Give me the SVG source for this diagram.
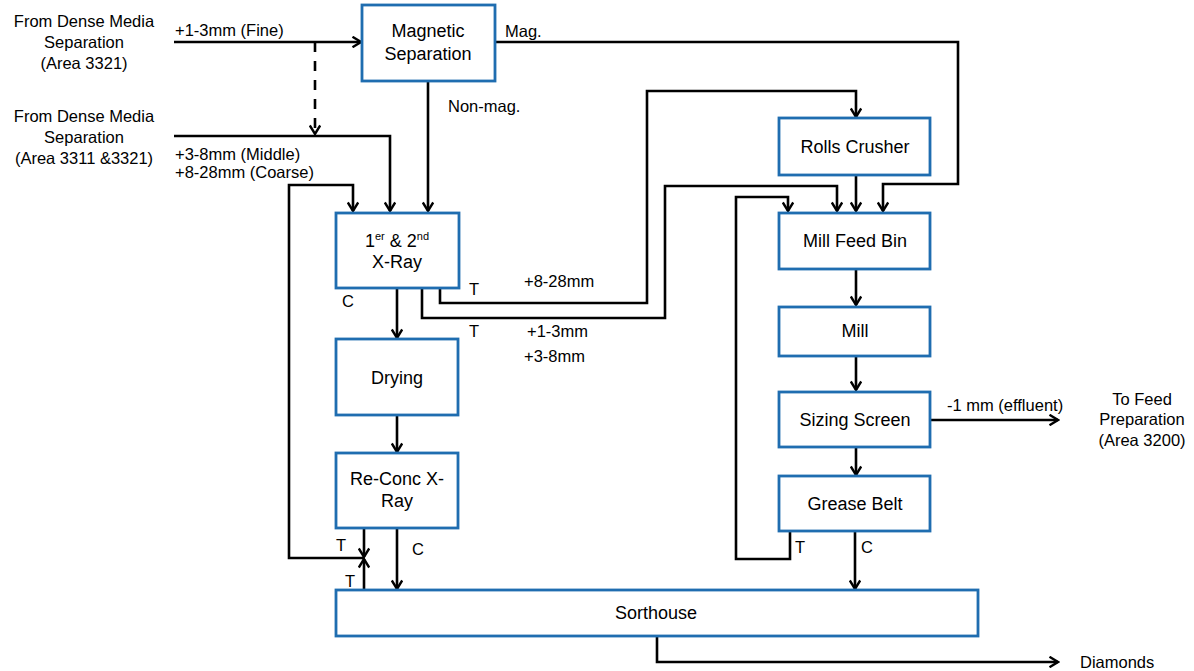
<svg xmlns="http://www.w3.org/2000/svg" width="1194" height="671" viewBox="0 0 1194 671">
<defs>
<style>
.box{fill:#fff;stroke:#1f6db0;stroke-width:2.8}
.nt{font-family:"Liberation Sans",Arial,sans-serif;font-size:18px;fill:#000;text-anchor:middle}
.lb{font-family:"Liberation Sans",Arial,sans-serif;font-size:16.5px;fill:#000}
.src{font-family:"Liberation Sans",Arial,sans-serif;font-size:16.5px;fill:#000;text-anchor:middle}
.ln{fill:none;stroke:#000;stroke-width:2.6}
.arr{marker-end:url(#ah)}
</style>
<marker id="ah" viewBox="0 0 12 12" refX="10.5" refY="6" markerWidth="12" markerHeight="12" markerUnits="userSpaceOnUse" orient="auto">
<path d="M2,0.8 L10.5,6 L2,11.2" fill="none" stroke="#000" stroke-width="2.4"/>
</marker>
</defs>
<rect width="1194" height="671" fill="#fff"/>

<g id="connectors">
<path class="ln arr" d="M174,42 H361"/>
<path class="ln arr" d="M315,42 V134" stroke-dasharray="10,9"/>
<path class="ln arr" d="M174,136 H390 V211"/>
<path class="ln arr" d="M428,81 V211"/>
<path class="ln arr" d="M495,42 H958 V184 H883 V211"/>
<path class="ln arr" d="M440,288 V303 H647 V91 H856 V117"/>
<path class="ln arr" d="M422,288 V318 H665 V186 H837 V211"/>
<path class="ln arr" d="M856,175 V211"/>
<path class="ln arr" d="M790,531 V559 H736 V197 H788 V211"/>
<path class="ln arr" d="M856,269 V305"/>
<path class="ln arr" d="M856,356 V390"/>
<path class="ln arr" d="M856,447 V475"/>
<path class="ln arr" d="M930,420 H1058"/>
<path class="ln arr" d="M855,531 V589"/>
<path class="ln arr" d="M657,636 V662 H1058"/>
<path class="ln arr" d="M397,288 V338"/>
<path class="ln arr" d="M397,415 V452"/>
<path class="ln arr" d="M397,528 V589"/>
<path class="ln arr" d="M364,528 V557"/>
<path class="ln arr" d="M364,590 V559"/>
<path class="ln arr" d="M364,558 H289 V185 H353 V211"/>
</g>

<g id="labels">
<text class="src" x="84" y="27">From Dense Media</text>
<text class="src" x="84" y="48">Separation</text>
<text class="src" x="84" y="69">(Area 3321)</text>
<text class="src" x="84" y="122">From Dense Media</text>
<text class="src" x="84" y="143">Separation</text>
<text class="src" x="84" y="164">(Area 3311 &amp;3321)</text>
<text class="lb" x="175" y="36">+1-3mm (Fine)</text>
<text class="lb" x="175" y="160">+3-8mm (Middle)</text>
<text class="lb" x="175" y="178">+8-28mm (Coarse)</text>
<text class="lb" x="505" y="37">Mag.</text>
<text class="lb" x="448" y="112">Non-mag.</text>
<text class="lb" x="469" y="295">T</text>
<text class="lb" x="524" y="287">+8-28mm</text>
<text class="lb" x="342" y="307">C</text>
<text class="lb" x="469" y="337">T</text>
<text class="lb" x="527" y="337">+1-3mm</text>
<text class="lb" x="524" y="362">+3-8mm</text>
<text class="lb" x="336" y="551">T</text>
<text class="lb" x="412" y="555">C</text>
<text class="lb" x="345" y="587">T</text>
<text class="lb" x="795" y="553">T</text>
<text class="lb" x="861" y="553">C</text>
<text class="lb" x="947" y="411">-1 mm (effluent)</text>
<text class="src" x="1142" y="405">To Feed</text>
<text class="src" x="1142" y="425">Preparation</text>
<text class="src" x="1142" y="446">(Area 3200)</text>
<text class="lb" x="1080" y="668">Diamonds</text>
</g>

<g id="magnetic-separation">
<rect class="box" x="362" y="5" width="133" height="76"/>
<text class="nt" x="428" y="37">Magnetic</text>
<text class="nt" x="428" y="60">Separation</text>
</g>
<g id="xray">
<rect class="box" x="336" y="213" width="123" height="75"/>
<text class="nt" x="397" y="247">1<tspan font-size="11" dy="-7">er</tspan><tspan dy="7"> &amp; 2</tspan><tspan font-size="11" dy="-7">nd</tspan></text>
<text class="nt" x="397" y="268">X-Ray</text>
</g>
<g id="drying">
<rect class="box" x="336" y="339" width="122" height="76"/>
<text class="nt" x="397" y="384">Drying</text>
</g>
<g id="reconc-xray">
<rect class="box" x="336" y="453" width="122" height="75"/>
<text class="nt" x="397" y="485">Re-Conc X-</text>
<text class="nt" x="397" y="507">Ray</text>
</g>
<g id="sorthouse">
<rect class="box" x="336" y="590" width="642" height="46"/>
<text class="nt" x="656" y="619">Sorthouse</text>
</g>
<g id="rolls-crusher">
<rect class="box" x="779" y="118" width="151" height="57"/>
<text class="nt" x="855" y="153">Rolls Crusher</text>
</g>
<g id="mill-feed-bin">
<rect class="box" x="779" y="213" width="151" height="56"/>
<text class="nt" x="855" y="247">Mill Feed Bin</text>
</g>
<g id="mill">
<rect class="box" x="779" y="307" width="151" height="49"/>
<text class="nt" x="855" y="337">Mill</text>
</g>
<g id="sizing-screen">
<rect class="box" x="779" y="392" width="151" height="55"/>
<text class="nt" x="855" y="426">Sizing Screen</text>
</g>
<g id="grease-belt">
<rect class="box" x="779" y="476" width="151" height="55"/>
<text class="nt" x="855" y="510">Grease Belt</text>
</g>
</svg>
